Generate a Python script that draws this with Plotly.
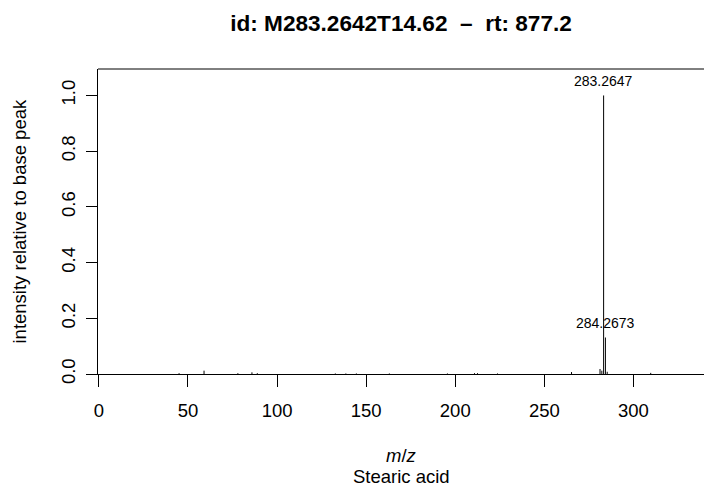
import plotly.graph_objects as go

# Data: m/z and relative intensity
mz = [45.0, 59.01, 78.0, 85.9, 88.9, 132.7, 138.6, 144.5, 163.0, 195.6,
      210.8, 212.5, 223.7, 265.25, 281.25, 282.26, 283.2647, 284.2673, 285.27, 309.7]
intensity = [0.003, 0.012, 0.003, 0.006, 0.003, 0.002, 0.002, 0.002, 0.002, 0.002,
             0.003, 0.003, 0.002, 0.007, 0.018, 0.012, 1.0, 0.131, 0.008, 0.004]
label_mz = [283.2647, 284.2673]
label_int = [1.0, 0.131]
label_txt = ["283.2647", "284.2673"]
x_ticks = [0, 50, 100, 150, 200, 250, 300]
y_ticks = [0.0, 0.2, 0.4, 0.6, 0.8, 1.0]
y_ticktext = ["0.0", "0.2", "0.4", "0.6", "0.8", "1.0"]

FONT = "Liberation Sans, Arial, sans-serif"

xs, ys = [], []
for m, v in zip(mz, intensity):
    xs += [m, m, None]
    ys += [0, v, None]

fig = go.Figure()
fig.add_trace(go.Scatter(x=xs, y=ys, mode="lines",
                         line=dict(color="black", width=1),
                         hoverinfo="skip", showlegend=False))

for m, v, t in zip(label_mz, label_int, label_txt):
    fig.add_annotation(x=m, y=v, xref="x", yref="y", text=t, showarrow=False,
                       xanchor="center", yanchor="middle", yshift=14.5,
                       font=dict(family=FONT, size=14, color="black"))

# top frame line
fig.add_shape(type="line", xref="paper", yref="paper", x0=0, x1=1, y0=1, y1=1,
              line=dict(color="black", width=1))

fig.add_annotation(xref="paper", yref="paper", x=0, y=0.5, xshift=-79,
                   text="intensity relative to base peak", textangle=-90,
                   showarrow=False, xanchor="center", yanchor="middle",
                   font=dict(family=FONT, size=18.5, color="black"))
fig.add_annotation(xref="paper", yref="paper", x=0.5, y=0, yshift=-81,
                   text="<i>m</i>/<i>z</i>", showarrow=False,
                   xanchor="center", yanchor="middle",
                   font=dict(family=FONT, size=18.5, color="black"))
fig.add_annotation(xref="paper", yref="paper", x=0.5, y=0, yshift=-102,
                   text="Stearic acid", showarrow=False,
                   xanchor="center", yanchor="middle",
                   font=dict(family=FONT, size=18.5, color="black"))

fig.update_layout(
    width=704, height=489,
    margin=dict(l=98, r=0, t=69, b=115),
    paper_bgcolor="white", plot_bgcolor="white",
    title=dict(text="<b>id: M283.2642T14.62  \u2013  rt: 877.2</b>",
               x=0.5, xref="paper", xanchor="center",
               y=1 - 23 / 489, yref="container", yanchor="middle",
               font=dict(family=FONT, size=22.6, color="black")),
    font=dict(family=FONT, size=18.5, color="black"),
    showlegend=False,
)
fig.update_xaxes(range=[-0.5, 339.6], tickvals=x_ticks, ticks="outside",
                 ticklen=12, tickwidth=1, tickcolor="black",
                 showline=True, linecolor="black", linewidth=1,
                 showgrid=False, zeroline=False,
                 tickfont=dict(family=FONT, size=18.5, color="black"),
                 ticklabelstandoff=8)
fig.update_yaxes(range=[0, 1.095], tickvals=y_ticks, ticktext=y_ticktext,
                 tickangle=-90, ticks="outside", ticklen=11, tickwidth=1,
                 tickcolor="black", showline=True, linecolor="black", linewidth=1,
                 showgrid=False, zeroline=False,
                 tickfont=dict(family=FONT, size=18.5, color="black"),
                 ticklabelstandoff=4)

fig.write_html("out.html")
